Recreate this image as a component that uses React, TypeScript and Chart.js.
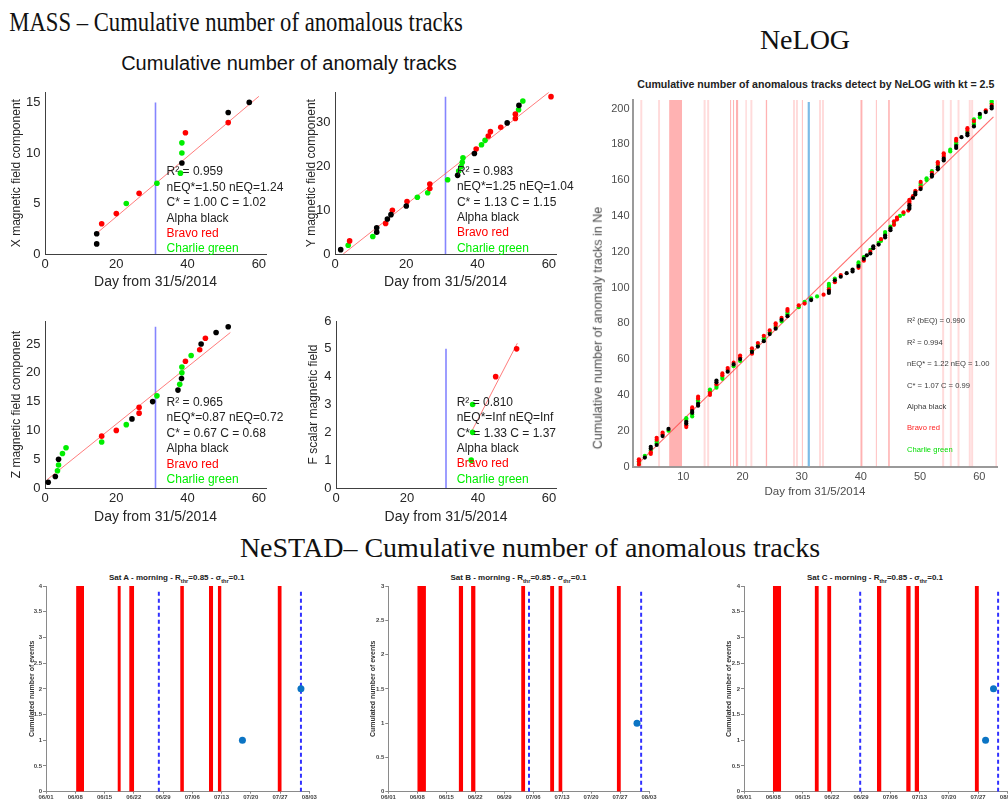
import React, { useEffect, useRef } from "react";
import { Chart, registerables } from "chart.js";

Chart.register(...registerables);

const SANS = "'Liberation Sans', Arial, sans-serif";
const SERIF = "'Liberation Serif', 'Times New Roman', serif";
Chart.defaults.font.family = SANS;

// ---------------- MASS data ----------------
const massDayTicks = [0, 20, 40, 60];
const massBlueDay = 31;

const xAlpha = [[14.5, 1], [14.5, 2], [38.4, 9], [51.4, 14], [57.3, 15]];
const xBravo = [[15.9, 3], [20, 4], [26.4, 6], [39.4, 12], [51.4, 13]];
const xCharlie = [[22.8, 5], [31.4, 7], [38, 8], [38.4, 10], [38.4, 11]];
const xFit = [[14, 1.9], [60, 15.6]];
const xTicks = [0, 5, 10, 15];

const yAlpha = [[1.6, 1], [11.7, 5], [11.7, 6], [14.7, 8], [15.7, 9], [20, 11], [34.4, 18], [39.1, 23], [48.3, 30], [51.6, 34]];
const yBravo = [[4.1, 3], [14.2, 7], [16.1, 10], [20.2, 12], [26.6, 15], [26.6, 16], [39.6, 24], [43, 27], [43.6, 28], [46.5, 29], [50.6, 31], [50.6, 32], [60.6, 36]];
const yCharlie = [[3.7, 2], [10.6, 4], [23.1, 13], [26, 14], [31.6, 17], [34.7, 19], [35.4, 20], [35.7, 21], [35.9, 22], [41.1, 25], [42.1, 26], [51.5, 33], [52.7, 35]];
const yFit = [[2.3, 0], [60, 37]];
const yTicks = [0, 10, 20, 30];

const zAlpha = [[0.9, 1], [2.9, 2], [3.8, 5], [24.4, 12], [30.2, 15], [37.3, 17], [38.3, 19], [43.8, 25], [48, 27], [51.4, 28]];
const zBravo = [[15.9, 9], [20, 10], [26.4, 13], [26.4, 14], [39.4, 22], [43.4, 24], [45, 26]];
const zCharlie = [[3.5, 3], [3.8, 4], [4.9, 6], [5.9, 7], [15.9, 8], [22.8, 11], [31.4, 16], [37.8, 18], [38.4, 20], [38.4, 21], [41, 23]];
const zFit = [[0.5, 1.4], [52, 27]];
const zTicks = [0, 5, 10, 15, 20, 25];

const fAlpha: number[][] = [];
const fBravo = [[45, 4], [50.9, 5]];
const fCharlie = [[38.1, 1], [38.5, 2], [38.5, 3]];
const fFit = [[38.1, 2], [51.1, 5.2]];
const fTicks = [0, 1, 2, 3, 4, 5, 6];

const xStats = ["R\u00B2 = 0.959", "nEQ*=1.50 nEQ=1.24", "C* = 1.00 C = 1.02"];
const yStats = ["R\u00B2 = 0.983", "nEQ*=1.25 nEQ=1.04", "C* = 1.13 C = 1.15"];
const zStats = ["R\u00B2 = 0.965", "nEQ*=0.87 nEQ=0.72", "C* = 0.67 C = 0.68"];
const fStats = ["R\u00B2 = 0.810", "nEQ*=Inf nEQ=Inf", "C* = 1.33 C = 1.37"];
const satLegend = ["Alpha black", "Bravo red", "Charlie green"];

// ---------------- NeLOG data ----------------
const nelogDayTicks = [10, 20, 30, 40, 50, 60];
const nelogCountTicks = [0, 20, 40, 60, 80, 100, 120, 140, 160, 180, 200];
const nelogClusterDay = [2.5, 3.5, 4.5, 5.5, 6.5, 7.5, 10.5, 11.5, 12.5, 14.5, 15.6, 16.6, 17.5, 18.5, 19.6, 21.6, 22.6, 23.6, 24.6, 25.6, 26.6, 27.6, 29.5, 30.5, 31.6, 32.6, 33.7, 34.6, 35.6, 36.6, 37.6, 38.6, 39.6, 40.5, 41.0, 41.6, 42.1, 43.0, 43.4, 44.1, 45.0, 45.6, 46.1, 46.6, 47.2, 48.0, 48.2, 48.8, 49.2, 50.1, 51.1, 52.0, 53.0, 54.0, 55.1, 56.1, 57.0, 58.0, 59.1, 60.1, 61.1, 62.1];
const nelogClusterStart = [1, 5, 7, 12, 17, 20, 22, 28, 34, 40, 44, 49, 53, 56, 59, 63, 67, 70, 74, 77, 81, 84, 89, 91, 93, 95, 96, 97, 103, 106, 108, 109, 111, 115, 118, 119, 122, 124, 126, 128, 132, 135, 138, 140, 141, 143, 144, 150, 152, 155, 160, 162, 166, 171, 176, 178, 184, 185, 190, 195, 198, 200];
const nelogClusterSats = ["RGRR", "KG", "RRGKK", "KGGRR", "KRR", "GK", "RRKKGG", "GGKKRR", "KKGGRR", "RRGG", "GGRKK", "GGRR", "KRR", "GKR", "GKRR", "RKGR", "KGR", "KGGR", "KGR", "KGRR", "GKR", "KGGRR", "GR", "RG", "KG", "G", "R", "KKRGGG", "RKG", "KR", "K", "KK", "RKGG", "RKG", "K", "KRG", "KK", "KG", "GR", "KKGG", "KKG", "RGR", "RR", "G", "GR", "R", "KKKRRR", "KR", "KKR", "KRGGR", "GG", "KKRG", "KKGRR", "KKRRR", "GG", "KKGGRR", "K", "KKGRR", "KGGRG", "GGK", "KR", "KKRGG"];
const nelogFit = [[2.2, 1], [62.4, 195.3]];
const nelogBlueDay = 31.2;
const nelogStrongBands = [[7.6, 9.8], [17.9, 18.1], [18.4, 18.6], [18.9, 19.3], [20.5, 20.7], [23.9, 24.2], [30.0, 30.2], [39.9, 40.3], [42.5, 42.7], [44.6, 44.9]];
const nelogPaleLines = [2.9, 5.9, 13.6, 14.2, 21.5, 28.7, 29.2, 33.1, 33.6, 53.9, 55.2, 56.5, 58.4, 58.8, 62.9];
const nelogStats = ["R\u00B2 (bEQ) = 0.990", "R\u00B2 = 0.994", "nEQ* = 1.22 nEQ = 1.00", "C* = 1.07 C = 0.99"];

// ---------------- NeSTAD data ----------------
const stadTickLabels = ["06/01", "06/08", "06/15", "06/22", "06/29", "07/06", "07/13", "07/20", "07/27", "08/03"];
const stadBarsA = [[7.2, 9.1], [17.1, 17.9], [19.9, 21.1], [32.1, 33.0], [39.0, 40.0], [41.1, 42.0], [55.4, 56.4]];
const stadBarsB = [[7.0, 9.1], [17.0, 18.1], [20.0, 21.1], [32.1, 33.1], [39.1, 40.1], [41.1, 42.1], [55.2, 56.2]];
const stadBarsC = [[6.9, 8.9], [16.9, 17.9], [19.9, 20.9], [31.8, 32.9], [38.8, 39.9], [40.8, 41.9], [55.2, 56.2]];
const stadDashA = [27.0, 61.0];
const stadDashB = [34.0, 61.1];
const stadDashC = [27.8, 60.8];
const stadDotsA = [[47.0, 1], [61.0, 2]];
const stadDotsB = [[60.1, 1]];
const stadDotsC = [[57.8, 1], [59.7, 2]];

// ---------------- helpers ----------------
type Box = { x: number; y: number; w: number; h: number };
type Area = { l: number; t: number; r: number; b: number };

function frame(box: Box, area: Area) {
  return {
    padding: { left: 0, top: area.t - box.y, right: box.x + box.w - area.r, bottom: 0 },
    yWidth: area.l - box.x,
    xHeight: box.y + box.h - area.b,
  };
}

const pts = (arr: number[][]) => arr.map(([x, y]) => ({ x, y }));

function textPlugin(id: string, anchor: number[], lines: { text: string; color: string }[], font: string, dy: number) {
  return {
    id,
    afterDatasetsDraw(chart: any) {
      const { ctx, scales } = chart;
      const px = scales.x.getPixelForValue(anchor[0]);
      const py = scales.y.getPixelForValue(anchor[1]);
      ctx.save();
      ctx.font = font;
      ctx.textAlign = "left";
      ctx.textBaseline = "middle";
      lines.forEach((ln, i) => {
        ctx.fillStyle = ln.color;
        ctx.fillText(ln.text, px, py + i * dy);
      });
      ctx.restore();
    },
  };
}

function scatterSet(arr: number[][], color: string, r: number) {
  return { data: pts(arr), backgroundColor: color, borderColor: color, borderWidth: 0, pointRadius: r, showLine: false, order: 0 };
}
function lineSet(arr: number[][], color: string, w: number, dash: number[] = [], order = 1) {
  return { data: pts(arr), borderColor: color, backgroundColor: color, borderWidth: w, borderDash: dash, pointRadius: 0, showLine: true, fill: false, order };
}
function bandSet(a: number, b: number, top: number, color: string, order = 2) {
  return {
    data: pts([[a, 0], [a, top], [b, top], [b, 0]]),
    borderWidth: 0, borderColor: color, backgroundColor: color, pointRadius: 0, showLine: true, fill: "origin", order,
  };
}

const fixedTicks = (vals: number[]) => (s: any) => { s.ticks = vals.map((v) => ({ value: v })); };

const MASS_TXT = "#262626";

function massConfig(p: any) {
  const fr = frame(p.box, p.area);
  const lh = 12 * 1.2;
  const lhx = 14 * 1.2;
  const lines = [
    ...p.stats.map((t: string) => ({ text: t, color: "#222" })),
    { text: satLegend[0], color: "#222" },
    { text: satLegend[1], color: "#ff0000" },
    { text: satLegend[2], color: "#00ee00" },
  ];
  return {
    type: "scatter",
    data: {
      datasets: [
        scatterSet(p.alpha, "#000000", 2.8),
        scatterSet(p.bravo, "#ff0000", 2.8),
        scatterSet(p.charlie, "#00ee00", 2.8),
        lineSet(p.fit, "rgba(255,80,80,0.75)", 1),
        lineSet([[massBlueDay, 0], [massBlueDay, p.blueTop]], "#8585ff", 1.6, [], 2),
      ],
    },
    options: {
      responsive: false,
      animation: false,
      events: [],
      layout: { padding: fr.padding },
      plugins: { legend: { display: false }, tooltip: { enabled: false } },
      scales: {
        x: {
          type: "linear", min: 0, max: 62,
          afterBuildTicks: fixedTicks(massDayTicks),
          afterFit: (s: any) => { s.height = fr.xHeight; },
          grid: { display: false, drawTicks: false },
          border: { display: true, color: "#404040", width: 1 },
          ticks: { padding: 3, font: { size: 13 }, color: MASS_TXT },
          title: { display: true, text: "Day from 31/5/2014", font: { size: 14 }, color: MASS_TXT, padding: { top: 0, bottom: p.box.y + p.box.h - lhx / 2 - p.xTitleY } },
        },
        y: {
          type: "linear", min: 0, max: p.yMax,
          afterBuildTicks: fixedTicks(p.yTicks),
          afterFit: (s: any) => { s.width = fr.yWidth; },
          grid: { display: false, drawTicks: false },
          border: { display: true, color: "#404040", width: 1 },
          ticks: { padding: 4.5, font: { size: 13 }, color: MASS_TXT },
          title: { display: true, text: p.yTitle, font: { size: 12 }, color: MASS_TXT, padding: { top: p.yTitleX - p.box.x - lh / 2, bottom: 0 } },
        },
      },
    },
    plugins: [textPlugin("massText", p.anchor, lines, `12px ${SANS}`, 15.4)],
  };
}

function nelogConfig() {
  const box = { x: 585, y: 90, w: 423, h: 415 };
  const area = { l: 633, t: 95, r: 997, b: 466.5 };
  const fr = frame(box, area);
  const top = 204.7;
  const alpha: number[][] = [];
  const bravo: number[][] = [];
  const charlie: number[][] = [];
  nelogClusterDay.forEach((d, i) => {
    const s = nelogClusterSats[i];
    for (let k = 0; k < s.length; k++) {
      const pt = [d, nelogClusterStart[i] + k];
      if (s[k] === "K") alpha.push(pt);
      else if (s[k] === "R") bravo.push(pt);
      else charlie.push(pt);
    }
  });
  const lhx = 11.5 * 1.2;
  const lines = [
    ...nelogStats.map((t) => ({ text: t, color: "#3a3a3a" })),
    { text: satLegend[0], color: "#3a3a3a" },
    { text: satLegend[1], color: "#ff2020" },
    { text: satLegend[2], color: "#00dd00" },
  ];
  return {
    type: "scatter",
    data: {
      datasets: [
        scatterSet(alpha, "#000000", 2.1),
        scatterSet(bravo, "#ff0000", 2.1),
        scatterSet(charlie, "#00ee00", 2.1),
        lineSet(nelogFit, "rgba(255,70,70,0.8)", 1.1),
        lineSet([[nelogBlueDay, 0], [nelogBlueDay, top - 1]], "#7dbbe6", 2.2, [], 1),
        ...nelogStrongBands.map(([a, b]) => bandSet(a, b, top, "rgba(255,0,0,0.3)")),
        ...nelogPaleLines.map((x) => lineSet([[x, 0], [x, top]], "rgba(255,0,0,0.14)", 2, [], 2)),
      ],
    },
    options: {
      responsive: false,
      animation: false,
      events: [],
      layout: { padding: fr.padding },
      plugins: { legend: { display: false }, tooltip: { enabled: false } },
      scales: {
        x: {
          type: "linear", min: 1.5, max: 63,
          afterBuildTicks: fixedTicks(nelogDayTicks),
          afterFit: (s: any) => { s.height = fr.xHeight; },
          grid: { display: false, drawTicks: false },
          border: { display: true, color: "#9a9a9a", width: 2 },
          ticks: { padding: 4, font: { size: 11 }, color: "#4d4d4d" },
          title: { display: true, text: "Day from 31/5/2014", font: { size: 11.5 }, color: "#4d4d4d", padding: { top: 0, bottom: box.y + box.h - lhx / 2 - 492 } },
        },
        y: {
          type: "linear", min: 0, max: top,
          afterBuildTicks: fixedTicks(nelogCountTicks),
          afterFit: (s: any) => { s.width = fr.yWidth; },
          grid: { display: false, drawTicks: false },
          border: { display: true, color: "#9a9a9a", width: 2 },
          ticks: { padding: 3.5, font: { size: 11 }, color: "#4d4d4d" },
          title: { display: false },
        },
      },
    },
    plugins: [textPlugin("nelogText", [47.8, 81.1], lines, `7.6px ${SANS}`, 21.4)],
  };
}

function stadConfig(p: any) {
  const fr = frame(p.box, p.area);
  const ylh = 7 * 1.2;
  const yTickVals: number[] = [];
  for (let v = 0; v <= p.yMax + 1e-9; v += 0.5) yTickVals.push(Math.round(v * 10) / 10);
  return {
    type: "scatter",
    data: {
      datasets: [
        scatterSet(p.dots, "#0b74c4", 3.5),
        ...p.dashes.map((d: number) => lineSet([[d, 0], [d, p.dashTop]], "#3030ff", 2, [4, 3], 1)),
        ...p.bars.map(([a, b]: number[]) => bandSet(a, b, p.yMax, "#ff0000")),
      ],
    },
    options: {
      responsive: false,
      animation: false,
      events: [],
      layout: { padding: fr.padding },
      plugins: { legend: { display: false }, tooltip: { enabled: false } },
      scales: {
        x: {
          type: "linear", min: 0, max: 63,
          afterBuildTicks: fixedTicks(stadTickLabels.map((_, i) => i * 7)),
          afterFit: (s: any) => { s.height = fr.xHeight; },
          grid: { display: true, drawOnChartArea: false, drawTicks: true, tickLength: 2, color: "#888" },
          border: { display: true, color: "#8a8a8a", width: 1 },
          ticks: { padding: 0, font: { size: 6, weight: "bold" }, color: "#444", maxRotation: 0, autoSkip: false, callback: (v: number) => stadTickLabels[Math.round(v / 7)] },
          title: { display: false },
        },
        y: {
          type: "linear", min: 0, max: p.yMax,
          afterBuildTicks: fixedTicks(yTickVals),
          afterFit: (s: any) => { s.width = fr.yWidth; },
          grid: { display: true, drawOnChartArea: false, drawTicks: true, tickLength: 3, color: "#888" },
          border: { display: true, color: "#8a8a8a", width: 1 },
          ticks: { padding: 1, font: { size: 6, weight: "bold" }, color: "#444", autoSkip: false, callback: (v: number) => String(Math.round(v * 10) / 10) },
          title: { display: true, text: "Cumulated number of events", font: { size: 7, weight: "bold" }, color: "#333", padding: { top: p.yTitleX - p.box.x - ylh / 2, bottom: 0 } },
        },
      },
    },
  };
}

// ---------------- components ----------------
function ChartBox({ box, make }: { box: Box; make: () => any }) {
  const ref = useRef<HTMLCanvasElement | null>(null);
  useEffect(() => {
    if (!ref.current) return;
    const chart = new Chart(ref.current, make());
    return () => chart.destroy();
  }, []);
  return (
    <canvas
      ref={ref}
      width={box.w}
      height={box.h}
      style={{ position: "absolute", left: box.x, top: box.y, width: box.w, height: box.h }}
    />
  );
}

function Label({ x, y, children, style, rotate, sx }: any) {
  return (
    <div
      style={{
        position: "absolute",
        left: x,
        top: y,
        transform: `translate(-50%, -50%)${rotate ? " rotate(-90deg)" : ""}${sx ? ` scaleX(${sx})` : ""}`,
        whiteSpace: "nowrap",
        lineHeight: 1,
        ...style,
      }}
    >
      {children}
    </div>
  );
}

const boxX = { x: 0, y: 80, w: 285, h: 215 };
const boxY = { x: 290, y: 80, w: 285, h: 215 };
const boxZ = { x: 0, y: 300, w: 285, h: 230 };
const boxF = { x: 290, y: 300, w: 285, h: 230 };
const boxNe = { x: 585, y: 90, w: 423, h: 415 };
const boxA = { x: 0, y: 575, w: 330, h: 230 };
const boxB = { x: 340, y: 575, w: 330, h: 230 };
const boxC = { x: 690, y: 575, w: 340, h: 230 };

export default function App() {
  const satTitle = (s: string) => (
    <>
      Sat {s} - morning - R<sub style={{ fontSize: "70%" }}>thr</sub>=0.85 - σ<sub style={{ fontSize: "70%" }}>thr</sub>=0.1
    </>
  );
  return (
    <div style={{ position: "absolute", left: 0, top: 0, width: 1008, height: 805, overflow: "hidden", background: "#fff", fontFamily: SANS }}>
      <Label x={236} y={22} sx={0.84} style={{ fontFamily: SERIF, fontSize: 27, color: "#111" }}>MASS – Cumulative number of anomalous tracks</Label>
      <Label x={289} y={63} style={{ fontSize: 20, color: "#111" }}>Cumulative number of anomaly tracks</Label>
      <Label x={805} y={40} style={{ fontFamily: SERIF, fontSize: 28, color: "#111" }}>NeLOG</Label>
      <Label x={530} y={548} style={{ fontFamily: SERIF, fontSize: 28, color: "#111" }}>NeSTAD– Cumulative number of anomalous tracks</Label>

      <ChartBox box={boxX} make={() => massConfig({ box: boxX, area: { l: 45, t: 87, r: 266, b: 254 }, yMax: 16, yTicks: xTicks, alpha: xAlpha, bravo: xBravo, charlie: xCharlie, fit: xFit, blueTop: 15, yTitle: "X magnetic field component", yTitleX: 17, xTitleY: 282, stats: xStats, anchor: [34.1, 8.1] })} />
      <ChartBox box={boxY} make={() => massConfig({ box: boxY, area: { l: 335, t: 87, r: 556, b: 254 }, yMax: 37, yTicks: yTicks, alpha: yAlpha, bravo: yBravo, charlie: yCharlie, fit: yFit, blueTop: 36, yTitle: "Y magnetic field component", yTitleX: 311.7, xTitleY: 282, stats: yStats, anchor: [34.2, 18.9] })} />
      <ChartBox box={boxZ} make={() => massConfig({ box: boxZ, area: { l: 45, t: 321, r: 266, b: 488 }, yMax: 29, yTicks: zTicks, alpha: zAlpha, bravo: zBravo, charlie: zCharlie, fit: zFit, blueTop: 28, yTitle: "Z magnetic field component", yTitleX: 17, xTitleY: 517, stats: zStats, anchor: [34.1, 14.8] })} />
      <ChartBox box={boxF} make={() => massConfig({ box: boxF, area: { l: 336, t: 321, r: 556, b: 488 }, yMax: 6, yTicks: fTicks, alpha: fAlpha, bravo: fBravo, charlie: fCharlie, fit: fFit, blueTop: 5, yTitle: "F scalar magnetic field", yTitleX: 313.3, xTitleY: 517, stats: fStats, anchor: [34.0, 3.07] })} />

      <Label x={815.8} y={84.3} style={{ fontSize: 10.6, fontWeight: "bold", color: "#222" }}>Cumulative number of anomalous tracks detect by NeLOG with kt = 2.5</Label>
      <ChartBox box={boxNe} make={nelogConfig} />
      <Label x={598} y={327.5} rotate style={{ fontSize: 12.5, color: "#4d4d4d" }}>Cumulative number of anomaly tracks in Ne</Label>

      <Label x={176.7} y={579.3} style={{ fontSize: 8, fontWeight: "bold", color: "#222" }}>{satTitle("A")}</Label>
      <Label x={518.5} y={579.3} style={{ fontSize: 8, fontWeight: "bold", color: "#222" }}>{satTitle("B")}</Label>
      <Label x={875} y={579.3} style={{ fontSize: 8, fontWeight: "bold", color: "#222" }}>{satTitle("C")}</Label>
      <ChartBox box={boxA} make={() => stadConfig({ box: boxA, area: { l: 46, t: 586, r: 309.3, b: 791.7 }, yMax: 4, bars: stadBarsA, dashes: stadDashA, dashTop: 3.92, dots: stadDotsA, yTitleX: 31.7 })} />
      <ChartBox box={boxB} make={() => stadConfig({ box: boxB, area: { l: 388.3, t: 586, r: 649, b: 791.7 }, yMax: 3, bars: stadBarsB, dashes: stadDashB, dashTop: 2.94, dots: stadDotsB, yTitleX: 372.7 })} />
      <ChartBox box={boxC} make={() => stadConfig({ box: boxC, area: { l: 744, t: 586, r: 1007.3, b: 791.7 }, yMax: 4, bars: stadBarsC, dashes: stadDashC, dashTop: 3.92, dots: stadDotsC, yTitleX: 729 })} />
    </div>
  );
}
